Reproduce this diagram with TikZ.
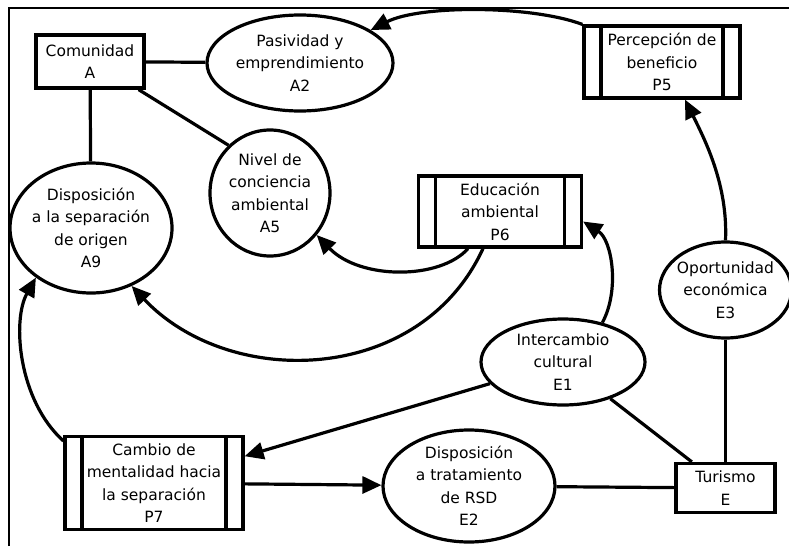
\documentclass[tikz,border=0pt]{standalone}
\usepackage{fontspec}
\setmainfont{DejaVu Sans}
\usetikzlibrary{shapes.geometric,arrows.meta}

\begin{document}
\begin{tikzpicture}[x=1pt,y=-1pt,line width=3.2pt,>={Triangle[length=19pt,width=17pt]}]

%
% Styles
%
\tikzstyle{group} = [rectangle,draw,inner sep=0pt,align=center,font=\fontsize{15.5}{22.5}\selectfont]
\tikzstyle{attribute} = [ellipse,draw,inner sep=-10pt,align=center,font=\fontsize{15.5}{22.5}\selectfont]
\tikzstyle{process} = [group,path picture={
  \draw[line width=3.2pt] ([xshift=17pt]path picture bounding box.north west) -- ([xshift=17pt]path picture bounding box.south west);
  \draw[line width=3.2pt] ([xshift=-17pt]path picture bounding box.north east) -- ([xshift=-17pt]path picture bounding box.south east);}]

\useasboundingbox (0,0) rectangle (789,546);
\draw[line width=1.3pt] (9,546) -- (9,8) -- (789,8);

\node[group,minimum width=108pt,minimum height=53pt]      (comA)  at ( 90, 61.5) {Comunidad\\A};
\node[attribute,minimum width=186pt,minimum height=96pt]  (pasA2) at (300, 63)   {Pasividad y\\emprendimiento\\A2};
\node[attribute,minimum width=120pt,minimum height=126pt] (nivA5) at (270,193)   {Nivel de\\conciencia\\ambiental\\A5};
\node[attribute,minimum width=162pt,minimum height=130pt] (disA9) at ( 91,228)   {Disposición\\a la separación\\de origen\\A9};
\node[process,minimum width=156pt,minimum height=72pt]    (perP5) at (662, 62)   {Percepción de\\beneficio\\P5};
\node[process,minimum width=163pt,minimum height=71pt]    (eduP6) at (500,211.5) {Educación\\ambiental\\P6};
\node[attribute,minimum width=132pt,minimum height=96pt]  (opoE3) at (725.5,290) {Oportunidad\\económica\\E3};
\node[attribute,minimum width=164pt,minimum height=86pt]  (intE1) at (563,362)   {Intercambio\\cultural\\E1};
\node[attribute,minimum width=172pt,minimum height=112pt] (disE2) at (469,486)   {Disposición\\a tratamiento\\de RSD\\E2};
\node[group,minimum width=99pt,minimum height=49pt]       (turE)  at (725.5,488) {Turismo\\E};
\node[process,minimum width=178pt,minimum height=93pt]    (camP7) at (154,483)   {Cambio de\\mentalidad hacia\\la separación\\P7};

\draw (comA) -- (pasA2);
\draw (comA) -- (disA9);
\draw ([xshift=-7pt]comA.south east) -- (nivA5.131);
\draw (intE1) -- (turE);
\draw (opoE3) -- (turE);
\draw (disE2) -- (turE);

\draw[->] (perP5.north west) .. controls (530,5) and (420,5) .. (pasA2.25);
\draw[->] (opoE3.north) .. controls (728,185) and (705,140) .. ([xshift=23pt]perP5.south);
\draw[->] ([xshift=-32pt]eduP6.south) .. controls (440,280) and (360,280) .. (nivA5.-42);
\draw[->] ([xshift=-17pt]eduP6.south) .. controls (420,385) and (230,390) .. (disA9.-55);
\draw[->] (intE1.45) .. controls (620,290) and (612,240) .. ([yshift=-10pt]eduP6.east);
\draw[->] ([yshift=-6pt]camP7.north west) .. controls (18,400) and (12,320) .. (disA9.-138);
\draw[->] (intE1) -- (camP7);
\draw[->] (camP7) -- (disE2);

\end{tikzpicture}
\end{document}
